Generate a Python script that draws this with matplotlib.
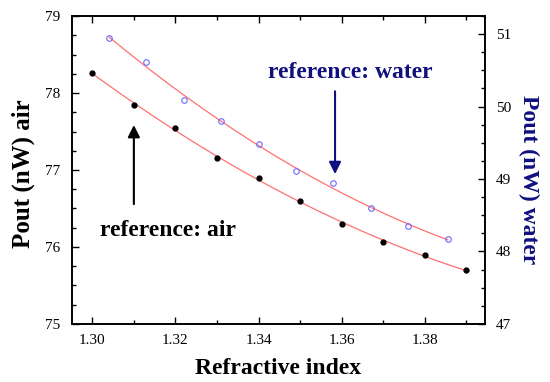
import numpy as np
import matplotlib.pyplot as plt
from matplotlib.ticker import MultipleLocator

plt.rcParams['font.family'] = ['Liberation Serif', 'DejaVu Serif']

# data
n_air = [1.30, 1.31, 1.32, 1.33, 1.34, 1.35, 1.36, 1.37, 1.38, 1.39]
p_air = [78.26, 77.84, 77.54, 77.16, 76.90, 76.60, 76.30, 76.06, 75.89, 75.70]

n_water = [1.304, 1.313, 1.322, 1.331, 1.340, 1.349, 1.358, 1.367, 1.376, 1.3855]
p_water = [50.95, 50.61, 50.09, 49.80, 49.48, 49.11, 48.94, 48.60, 48.35, 48.17]

navy = '#10107f'
fit_color = '#ff7070'

fig = plt.figure(figsize=(5.5, 3.82), dpi=100)
ax = fig.add_axes([0.130, 0.152, 0.752, 0.806])
ax2 = ax.twinx()

# quadratic fits
for xs, ys, a in [(n_air, p_air, ax), (n_water, p_water, ax2)]:
    c = np.polyfit(xs, ys, 2)
    xf = np.linspace(min(xs), max(xs), 200)
    a.plot(xf, np.polyval(c, xf), color=fit_color, lw=0.9, zorder=1)

ax.plot(n_air, p_air, 'o', color='black', ms=3.5, zorder=3)
ax2.plot(n_water, p_water, 'o', mfc='none', mec='#6a6aff', mew=0.8, ms=4, zorder=3)

ax.set_xlim(1.295, 1.3945)
ax.set_ylim(75, 79)
ax2.set_ylim(47, 51.25)

ax.xaxis.set_major_locator(MultipleLocator(0.02))
ax.xaxis.set_minor_locator(MultipleLocator(0.01))
ax.yaxis.set_major_locator(MultipleLocator(1))
ax.yaxis.set_minor_locator(MultipleLocator(0.25))
ax2.yaxis.set_major_locator(MultipleLocator(1))
ax2.yaxis.set_minor_locator(MultipleLocator(0.25))
ax.xaxis.set_major_formatter(plt.FuncFormatter(lambda v, p: f'{v:.2f}'))

ax.tick_params(which='both', direction='in', top=True, labelsize=11, width=1)
ax.tick_params(which='major', length=5, pad=8)
ax.tick_params(axis='x', which='major', pad=7)
ax.tick_params(which='minor', length=3)
ax2.tick_params(which='both', direction='in', labelsize=11, width=1)
ax2.tick_params(which='major', length=5, pad=8)
ax2.tick_params(which='minor', length=3)
for a in (ax, ax2):
    for s in a.spines.values():
        s.set_linewidth(1.2)

ax.set_xlabel('Refractive index', fontsize=17, fontweight='bold', labelpad=8)
ax.set_ylabel('Pout (nW) air', fontsize=18, fontweight='bold', va='center')
ax.yaxis.set_label_coords(-0.116, 0.489)
ax2.set_ylabel('Pout (nW) water', fontsize=17, fontweight='bold', color=navy,
               rotation=-90, va='center')
ax2.yaxis.set_label_coords(1.104, 0.468)

# annotations
ax2.annotate('', xy=(1.3584, 49.03), xytext=(1.3584, 50.25),
             arrowprops=dict(arrowstyle='-|>', color=navy, lw=1.5, mutation_scale=18))
ax2.text(1.362, 50.47, 'reference: water', fontsize=17, fontweight='bold',
         color=navy, ha='center', va='center')
ax.annotate('', xy=(1.31, 77.62), xytext=(1.31, 76.52),
            arrowprops=dict(arrowstyle='-|>', color='black', lw=1.5, mutation_scale=18))
ax.text(1.3182, 76.22, 'reference: air', fontsize=17, fontweight='bold',
        color='black', ha='center', va='center')

fig.savefig('out.png', dpi=100)
